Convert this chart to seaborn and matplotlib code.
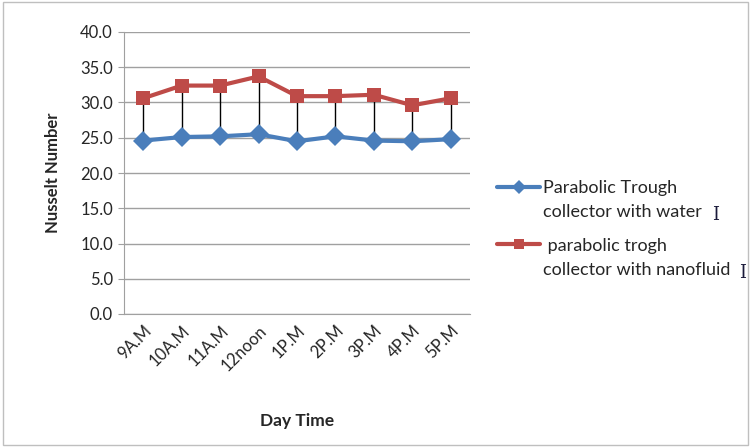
import matplotlib
matplotlib.use("Agg")
import matplotlib.pyplot as plt
import seaborn as sns
import pandas as pd
import numpy as np
from matplotlib.patches import Rectangle
from matplotlib.lines import Line2D
from matplotlib.legend_handler import HandlerLine2D
from matplotlib.ticker import FormatStrFormatter

categories = ["9A.M", "10A.M", "11A.M", "12noon", "1P.M", "2P.M", "3P.M", "4P.M", "5P.M"]
water = [24.6, 25.1, 25.2, 25.5, 24.5, 25.2, 24.6, 24.5, 24.8]
nano = [30.6, 32.4, 32.4, 33.7, 30.9, 30.9, 31.1, 29.6, 30.6]
series_names = ["Parabolic Trough\ncollector with water", " parabolic trogh\ncollector with nanofluid"]

sns.set_style("white")
plt.rcParams["font.family"] = ["Lato", "DejaVu Sans"]

df = pd.DataFrame({
    "time": categories * 2,
    "value": water + nano,
    "series": [series_names[0]] * len(categories) + [series_names[1]] * len(categories),
})


class UpHandler(HandlerLine2D):
    def create_artists(self, legend, orig_handle, xdescent, ydescent, width, height, fontsize, trans):
        arts = super().create_artists(legend, orig_handle, xdescent, ydescent, width, height, fontsize, trans)
        for a in arts:
            a.set_ydata(np.asarray(a.get_ydata(), dtype=float) + 0.75 * fontsize)
        return arts


fig = plt.figure(figsize=(7.51, 4.47), dpi=100)
ax = fig.add_axes([124 / 751, 1 - 314 / 447, (470 - 124) / 751, (314 - 32) / 447])

ax.vlines(categories, water, nano, color="black", linewidth=1.0, zorder=1)
sns.lineplot(data=df, x="time", y="value", hue="series", style="series",
             markers={series_names[0]: "D", series_names[1]: "s"}, dashes=False,
             palette={series_names[0]: "#4A7EBB", series_names[1]: "#BE4B48"},
             linewidth=3, markersize=10, markeredgewidth=0, ax=ax, zorder=2, sort=False)

ax.set_ylim(0, 40)
ax.set_xlim(-0.5, len(categories) - 0.5)
ax.set_yticks([0, 5, 10, 15, 20, 25, 30, 35, 40])
ax.yaxis.set_major_formatter(FormatStrFormatter("%.1f"))
ax.grid(axis="y", color="#A0A0A0", linewidth=1)
for s in ["top", "right"]:
    ax.spines[s].set_visible(False)
ax.spines["left"].set_color("#A0A0A0")
ax.spines["bottom"].set_color("#A0A0A0")
ax.tick_params(axis="y", length=4, color="#A0A0A0", labelsize=12, left=True, pad=4)
ax.tick_params(axis="x", length=0, labelsize=12, pad=6)
plt.setp(ax.get_xticklabels(), rotation=45, ha="right", rotation_mode="anchor")
ax.set_xlabel("Day Time", fontsize=12.5, fontweight="bold", labelpad=28)
ax.set_ylabel("Nusselt Number", fontsize=12, fontweight="bold", labelpad=14)

leg = ax.legend(loc="upper left", bbox_to_anchor=(497 / 751, 1 - 180 / 447),
                bbox_transform=fig.transFigure, frameon=False, fontsize=13,
                handlelength=2.4, labelspacing=0.95, handletextpad=0.15,
                borderaxespad=0, borderpad=0,
                handler_map={Line2D: UpHandler()})
for t in leg.get_texts():
    t.set_linespacing(1.65)
for h in leg.legend_handles:
    h.set_markersize(7)
    h.set_linewidth(3)

fig.text(712 / 751, 1 - 215 / 447, "I", fontsize=13, family="DejaVu Serif", color="#1a1a3a", va="center")
fig.text(739 / 751, 1 - 273 / 447, "I", fontsize=13, family="DejaVu Serif", color="#1a1a3a", va="center")

fig.patches.append(Rectangle((0.004, 0.004), 0.992, 0.992, transform=fig.transFigure,
                             fill=False, edgecolor="#BFBFBF", linewidth=1))

fig.savefig("out.png", dpi=100)
